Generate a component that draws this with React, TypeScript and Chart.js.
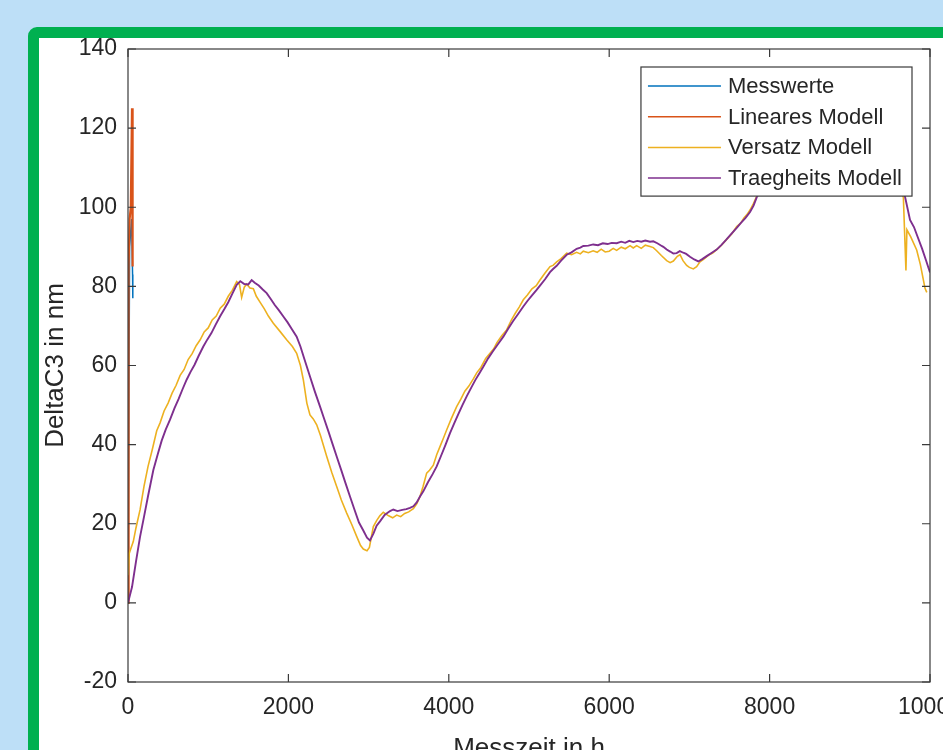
import { useEffect, useRef } from "react";
import { Chart, registerables } from "chart.js";

Chart.register(...registerables);

const FONT = '"Liberation Sans", Arial, Helvetica, sans-serif';

const seriesLabels = ["Messwerte", "Lineares Modell", "Versatz Modell", "Traegheits Modell"];
const seriesColors = ["#0072BD", "#D95319", "#EDB120", "#7E2F8E"];

const xTicks = [0, 2000, 4000, 6000, 8000, 10000];
const yTicks = [-20, 0, 20, 40, 60, 80, 100, 120, 140];

// Messwerte (only the short visible start segment)
const messTime = [0, 20, 45, 57, 60];
const messValue = [2, 90, 97, 83, 77];

// Lineares Modell (initial spike)
const linTime = [0, 5, 10, 20, 35, 50, 55, 60];
const linValue = [0, 60, 85, 97, 100, 125, 97, 85];

// Versatz Modell
const versTime = [
  0, 15, 40, 66, 100, 150, 200, 250, 300, 358, 400, 450, 500, 550, 600, 650, 700, 750, 800, 850,
  900, 950, 1000, 1050, 1100, 1150, 1200, 1250, 1300, 1355, 1390, 1417, 1450, 1480, 1521, 1563,
  1600, 1646, 1700, 1750, 1812, 1900, 1978, 2050, 2103, 2150, 2186, 2230, 2269, 2310, 2353, 2400,
  2478, 2540, 2602, 2660, 2727, 2790, 2851, 2900, 2934, 2980, 3010, 3059, 3100, 3140, 3183, 3250,
  3300, 3350, 3400, 3450, 3500, 3558, 3600, 3641, 3680, 3724, 3760, 3807, 3850, 3890, 3930, 3973,
  4030, 4098, 4150, 4200, 4250, 4306, 4350, 4400, 4460, 4514, 4560, 4600, 4660, 4721, 4780, 4829,
  4880, 4929, 4980, 5037, 5090, 5137, 5200, 5262, 5300, 5345, 5400, 5470, 5530, 5594, 5640, 5677,
  5740, 5800, 5850, 5900, 5950, 6000, 6050, 6093, 6150, 6200, 6260, 6300, 6342, 6400, 6450, 6509,
  6550, 6592, 6650, 6717, 6760, 6800, 6850, 6883, 6920, 6966, 7000, 7049, 7090, 7132, 7180, 7240,
  7290, 7340, 7400, 7470, 7530, 7590, 7640, 7680, 7720, 7756, 7800, 7840, 7900, 8000, 8200, 8400,
  8600, 8800, 9000, 9200, 9400, 9600, 9668, 9700, 9712, 9760, 9834, 9880, 9938, 9960,
];
const versValue = [
  7, 12.5, 14, 15.5, 19, 23.5, 29.5, 34.5, 38.5, 43.5, 45.5, 48.5, 50.5, 53, 55, 57.5, 59, 61.5, 63, 65,
  66.5, 68.5, 69.5, 71.5, 72.5, 74.5, 75.5, 77.5, 79, 81.2, 80.5, 77.2, 79.8, 80.6, 79.6, 79.4,
  77.5, 76.0, 74.3, 72.5, 70.7, 68.5, 66.5, 64.8, 63.1, 60.0, 56.4, 50.5, 47.5, 46.5, 45.0, 42.3,
  37.0, 33.0, 29.4, 26.0, 22.7, 19.8, 16.8, 14.5, 13.6, 13.2, 14.0, 19.3, 20.8, 22.0, 22.9, 22.0,
  21.5, 22.2, 21.8, 22.6, 23.0, 23.8, 25.0, 26.9, 29.5, 32.8, 33.5, 34.8, 37.5, 39.5, 41.5, 43.7,
  46.5, 49.6, 51.5, 53.5, 54.8, 56.6, 58.2, 59.5, 61.8, 63.1, 64.2, 65.8, 67.5, 69.0, 71.5, 73.2,
  74.8, 76.6, 77.8, 79.4, 80.2, 81.6, 83.4, 85.0, 85.3, 86.2, 87.0, 88.4, 88.0, 88.6, 88.2, 88.9,
  88.5, 89.0, 88.6, 89.4, 88.7, 88.9, 89.6, 89.1, 89.9, 89.5, 90.3, 89.7, 90.3, 89.6, 90.4, 90.1,
  89.8, 89.0, 87.8, 86.5, 86.0, 86.4, 87.6, 88.0, 86.5, 85.3, 84.8, 84.4, 85.0, 86.2, 86.9, 87.9,
  88.4, 89.3, 90.4, 92.0, 93.3, 95.1, 96.0, 97.3, 98.2, 99.3, 101.0, 102.8, 104.5, 106.5, 110.5, 113.5,
  115.5, 116.5, 116, 114, 110.5, 106, 102.5, 84, 94.3, 92.5, 89.2, 85.5, 79.5, 78.5,
];

// Traegheits Modell
const traegTime = [
  0, 50, 100, 150, 200, 250, 316, 370, 420, 470, 524, 580, 630, 680, 731, 780, 830, 880, 939, 990,
  1040, 1090, 1147, 1200, 1250, 1300, 1355, 1400, 1450, 1500, 1542, 1580, 1630, 1680, 1729, 1780,
  1830, 1880, 1937, 1990, 2040, 2103, 2150, 2200, 2269, 2330, 2400, 2436, 2500, 2550, 2602, 2660,
  2710, 2768, 2820, 2880, 2934, 2980, 3017, 3060, 3100, 3142, 3200, 3267, 3308, 3360, 3420, 3470,
  3516, 3558, 3600, 3641, 3682, 3740, 3800, 3849, 3900, 3960, 4015, 4070, 4120, 4170, 4223, 4280,
  4330, 4380, 4430, 4490, 4550, 4610, 4680, 4740, 4800, 4860, 4929, 4980, 5040, 5090, 5137, 5200,
  5262, 5300, 5345, 5400, 5470, 5530, 5594, 5640, 5677, 5740, 5800, 5860, 5920, 5980, 6030, 6093,
  6150, 6200, 6250, 6301, 6350, 6400, 6450, 6509, 6550, 6600, 6640, 6675, 6717, 6760, 6800, 6841,
  6880, 6924, 6960, 7007, 7060, 7111, 7160, 7220, 7280, 7340, 7400, 7460, 7520, 7590, 7640, 7700,
  7756, 7800, 7839, 7900, 8000, 8200, 8400, 8600, 8800, 9000, 9200, 9400, 9600, 9688, 9751, 9800,
  9850, 9900, 9950, 10000,
];
const traegValue = [
  0, 4, 10.5, 16.7, 21.8, 27, 33.6, 37.5, 41, 43.8, 46.3, 49.2, 51.5, 54, 56.4, 58.4, 60.2, 62.4, 64.8, 66.6,
  68.2, 70.2, 72.4, 74.2, 76, 78.1, 80.4, 81.3, 80.6, 80.5, 81.6, 80.9, 80.2, 79.2, 78.3, 76.8,
  75.3, 74, 72.4, 70.9, 69.3, 67.3, 64.8, 61.6, 57.2, 53.4, 49.3, 47.1, 43.3, 40.2, 37.0, 33.5,
  30.4, 26.9, 23.8, 20.3, 18.3, 16.5, 15.8, 17.5, 19.5, 20.6, 22.2, 23.2, 23.6, 23.2, 23.5, 23.7,
  24.0, 24.4, 25.4, 26.9, 28.2, 30.5, 32.6, 34.5, 37.0, 40.0, 42.9, 45.5, 47.8, 50.0, 52.2, 54.4,
  56.3, 58.0, 59.7, 61.8, 63.6, 65.3, 67.3, 69.3, 71.2, 72.9, 74.9, 76.3, 77.8, 79.0, 80.2, 81.8,
  83.6, 84.4, 85.2, 86.5, 88.0, 88.6, 89.5, 89.8, 90.2, 90.3, 90.6, 90.4, 90.9, 90.7, 91.0, 90.9,
  91.3, 91.0, 91.5, 91.2, 91.5, 91.3, 91.6, 91.3, 91.4, 90.9, 90.4, 90.0, 89.3, 88.8, 88.3, 88.4,
  88.9, 88.5, 88.2, 87.5, 86.8, 86.3, 86.9, 87.7, 88.5, 89.3, 90.5, 91.8, 93.2, 94.8, 96.0, 97.3,
  98.8, 100.4, 102.5, 104.5, 106.8, 111, 114, 116, 117, 116.5, 114.5, 111, 106.5, 102.7, 96.8, 95.0,
  92.3, 89.6, 86.6, 83.5,
];

const toPoints = (t: number[], v: number[]) => t.map((x, i) => ({ x, y: v[i] }));

const boxPlugin = {
  id: "matlabBox",
  afterDatasetsDraw(chart: any) {
    const { ctx, chartArea: a, scales } = chart;
    const xs = scales.x;
    const ys = scales.y;
    const tl = 8;
    ctx.save();
    ctx.strokeStyle = "#3a3a3a";
    ctx.lineWidth = 1.2;
    ctx.beginPath();
    xTicks.forEach((v) => {
      const px = xs.getPixelForValue(v);
      ctx.moveTo(px, a.bottom);
      ctx.lineTo(px, a.bottom - tl);
      ctx.moveTo(px, a.top);
      ctx.lineTo(px, a.top + tl);
    });
    yTicks.forEach((v) => {
      const py = ys.getPixelForValue(v);
      ctx.moveTo(a.left, py);
      ctx.lineTo(a.left + tl, py);
      ctx.moveTo(a.right, py);
      ctx.lineTo(a.right - tl, py);
    });
    ctx.stroke();
    ctx.strokeRect(a.left, a.top, a.right - a.left, a.bottom - a.top);
    ctx.restore();
  },
};

const legendPlugin = {
  id: "matlabLegend",
  afterDraw(chart: any) {
    const { ctx, chartArea: a } = chart;
    const ds = chart.data.datasets;
    ctx.save();
    ctx.font = `22px ${FONT}`;
    const textW = Math.max(...ds.map((d: any) => ctx.measureText(d.label).width));
    const boxW = 7 + 73 + 7 + textW + 10;
    const rowH = 30.7;
    const boxH = 19 + rowH * (ds.length - 1) + 18;
    const right = a.right - 18;
    const top = a.top + 18;
    const left = right - boxW;
    ctx.fillStyle = "#ffffff";
    ctx.fillRect(left, top, boxW, boxH);
    ctx.strokeStyle = "#3a3a3a";
    ctx.lineWidth = 1.2;
    ctx.strokeRect(left, top, boxW, boxH);
    ds.forEach((d: any, i: number) => {
      const y = top + 19 + i * rowH;
      ctx.strokeStyle = d.borderColor;
      ctx.lineWidth = 1.5;
      ctx.beginPath();
      ctx.moveTo(left + 7, y);
      ctx.lineTo(left + 80, y);
      ctx.stroke();
      ctx.fillStyle = "#262626";
      ctx.textBaseline = "middle";
      ctx.textAlign = "left";
      ctx.fillText(d.label, left + 87, y + 1);
    });
    ctx.restore();
  },
};

export default function App() {
  const ref = useRef<HTMLCanvasElement | null>(null);

  useEffect(() => {
    if (!ref.current) return;
    const series = [
      toPoints(messTime, messValue),
      toPoints(linTime, linValue),
      toPoints(versTime, versValue),
      toPoints(traegTime, traegValue),
    ];
    const widths = [1.5, 2.2, 1.6, 1.9];
    const chart = new Chart(ref.current, {
      type: "line",
      data: {
        datasets: series.map((data, i) => ({
          label: seriesLabels[i],
          data,
          borderColor: seriesColors[i],
          backgroundColor: seriesColors[i],
          borderWidth: widths[i],
          pointRadius: 0,
          tension: 0,
          fill: false,
          order: 3 - i,
        })),
      },
      options: {
        animation: false,
        responsive: false,
        events: [],
        layout: { padding: { left: 0, top: 49, right: 70, bottom: 0 } },
        plugins: { legend: { display: false }, tooltip: { enabled: false } },
        scales: {
          x: {
            type: "linear",
            min: 0,
            max: 10000,
            afterFit: (s: any) => {
              s.height = 118;
            },
            afterBuildTicks: (s: any) => {
              s.ticks = xTicks.map((v) => ({ value: v }));
            },
            grid: { display: false, drawTicks: false },
            border: { display: false },
            ticks: {
              autoSkip: false,
              maxRotation: 0,
              padding: 12,
              color: "#262626",
              font: { family: FONT, size: 23 },
              callback: (v: any) => String(v),
            },
            title: {
              display: true,
              text: "Messzeit in h",
              color: "#262626",
              font: { family: FONT, size: 26, lineHeight: 1 },
              padding: { top: 0, bottom: 38 },
            },
          },
          y: {
            type: "linear",
            min: -20,
            max: 140,
            afterFit: (s: any) => {
              s.width = 128;
            },
            afterBuildTicks: (s: any) => {
              s.ticks = yTicks.map((v) => ({ value: v }));
            },
            grid: { display: false, drawTicks: false },
            border: { display: false },
            ticks: {
              autoSkip: false,
              padding: 11,
              color: "#262626",
              font: { family: FONT, size: 23 },
              callback: (v: any) => String(v),
            },
            title: {
              display: true,
              text: "DeltaC3 in nm",
              color: "#262626",
              font: { family: FONT, size: 26, lineHeight: 1 },
              padding: { top: 43, bottom: 0 },
            },
          },
        },
      },
      plugins: [boxPlugin, legendPlugin],
    } as any);
    return () => chart.destroy();
  }, []);

  return (
    <div
      style={{
        position: "fixed",
        left: 0,
        top: 0,
        width: 943,
        height: 750,
        overflow: "hidden",
        background: "#BDDFF7",
      }}
    >
      <div
        style={{
          position: "absolute",
          left: 28,
          top: 27,
          width: 1100,
          height: 900,
          border: "11px solid #00B050",
          borderRadius: 9,
          background: "#ffffff",
        }}
      />
      <canvas
        ref={ref}
        width={1000}
        height={800}
        style={{ position: "absolute", left: 0, top: 0, width: 1000, height: 800, display: "block" }}
      />
    </div>
  );
}
